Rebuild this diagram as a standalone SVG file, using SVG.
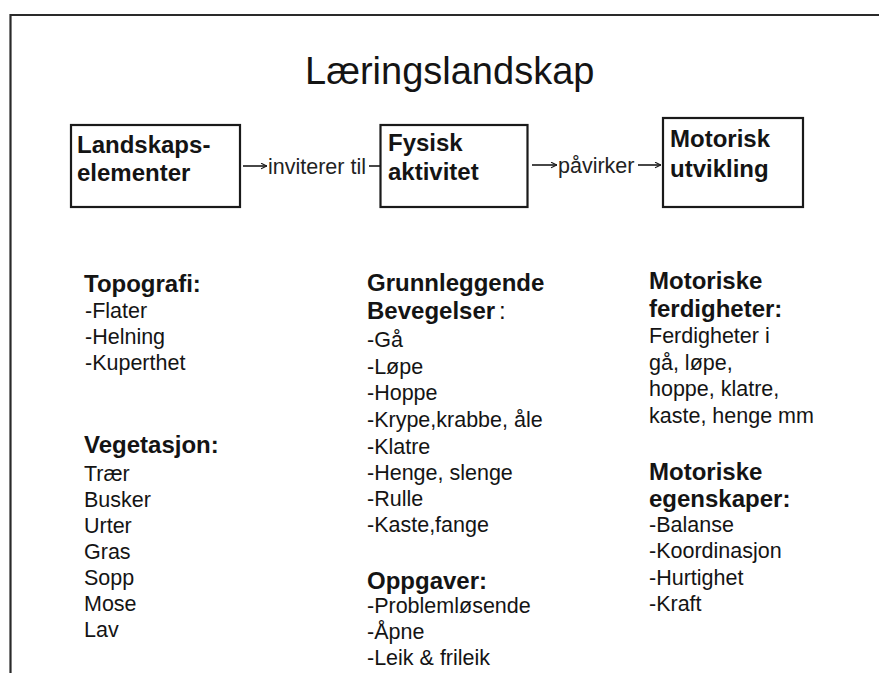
<svg xmlns="http://www.w3.org/2000/svg" width="879" height="673" viewBox="0 0 879 673">
  <defs>
    <marker id="arr" viewBox="0 0 10 10" refX="9.5" refY="5" markerWidth="7" markerHeight="7" markerUnits="userSpaceOnUse" orient="auto">
      <path d="M1,1 L9.5,5 L1,9" fill="none" stroke="#1a1a1a" stroke-width="1.6"/>
    </marker>
    <style>
      text { font-family: "Liberation Sans", Arial, sans-serif; fill: #141414; }
      .title { font-size: 38px; }
      .box { fill: #ffffff; stroke: #1a1a1a; stroke-width: 2.2; }
      .bt { font-size: 24px; font-weight: bold; }
      .h { font-size: 24px; font-weight: bold; }
      .t { font-size: 21.5px; }
      .lbl { font-size: 21.5px; fill: #222; }
      .conn { stroke: #1a1a1a; stroke-width: 1.6; fill: none; }
      .frame { stroke: #2a2a2a; stroke-width: 2.2; fill: none; }
    </style>
  </defs>
  <rect x="0" y="0" width="879" height="673" fill="#ffffff"/>
  <path class="frame" d="M879,15 H10.5 V673"/>

  <text class="title" x="305" y="84">Læringslandskap</text>

  <g id="node-landskapselementer">
    <rect class="box" x="71" y="125" width="169" height="82"/>
    <text class="bt" x="77" y="153">Landskaps-</text>
    <text class="bt" x="77" y="181">elementer</text>
  </g>
  <g id="node-fysisk-aktivitet">
    <rect class="box" x="380.5" y="125" width="147" height="82"/>
    <text class="bt" x="388" y="151">Fysisk</text>
    <text class="bt" x="388" y="180">aktivitet</text>
  </g>
  <g id="node-motorisk-utvikling">
    <rect class="box" x="663" y="118" width="140" height="89"/>
    <text class="bt" x="670" y="147">Motorisk</text>
    <text class="bt" x="670" y="177">utvikling</text>
  </g>

  <g id="connectors">
    <line class="conn" x1="243" y1="166" x2="267" y2="166" marker-end="url(#arr)"/>
    <text class="lbl" x="268" y="174">inviterer til</text>
    <line class="conn" x1="369" y1="166" x2="380" y2="166"/>
    <line class="conn" x1="532" y1="165" x2="557" y2="165" marker-end="url(#arr)"/>
    <text class="lbl" x="558" y="173">påvirker</text>
    <line class="conn" x1="638" y1="165" x2="661" y2="165" marker-end="url(#arr)"/>
  </g>

  <g id="col-landskap">
    <text class="h" x="84" y="292">Topografi:</text>
    <text class="t" x="85" y="318">-Flater</text>
    <text class="t" x="85" y="344">-Helning</text>
    <text class="t" x="85" y="370">-Kuperthet</text>
    <text class="h" x="84" y="453">Vegetasjon:</text>
    <text class="t" x="84" y="481">Trær</text>
    <text class="t" x="84" y="507">Busker</text>
    <text class="t" x="84" y="533">Urter</text>
    <text class="t" x="84" y="559">Gras</text>
    <text class="t" x="84" y="585">Sopp</text>
    <text class="t" x="84" y="611">Mose</text>
    <text class="t" x="84" y="637">Lav</text>
  </g>

  <g id="col-aktivitet">
    <text class="h" x="367" y="291">Grunnleggende</text>
    <text class="h" x="367" y="319">Bevegelser<tspan dx="4" font-weight="normal">:</tspan></text>
    <text class="t" x="367" y="347">-Gå</text>
    <text class="t" x="367" y="374">-Løpe</text>
    <text class="t" x="367" y="400">-Hoppe</text>
    <text class="t" x="367" y="427">-Krype,krabbe, åle</text>
    <text class="t" x="367" y="454">-Klatre</text>
    <text class="t" x="367" y="480">-Henge, slenge</text>
    <text class="t" x="367" y="506">-Rulle</text>
    <text class="t" x="367" y="532">-Kaste,fange</text>
    <text class="h" x="367" y="589">Oppgaver:</text>
    <text class="t" x="367" y="613">-Problemløsende</text>
    <text class="t" x="367" y="639">-Åpne</text>
    <text class="t" x="367" y="665">-Leik &amp; frileik</text>
  </g>

  <g id="col-motorisk">
    <text class="h" x="649" y="289">Motoriske</text>
    <text class="h" x="649" y="317">ferdigheter:</text>
    <text class="t" x="649" y="343">Ferdigheter i</text>
    <text class="t" x="649" y="370">gå, løpe,</text>
    <text class="t" x="649" y="396">hoppe, klatre,</text>
    <text class="t" x="649" y="423">kaste, henge mm</text>
    <text class="h" x="649" y="480">Motoriske</text>
    <text class="h" x="649" y="507">egenskaper:</text>
    <text class="t" x="649" y="532">-Balanse</text>
    <text class="t" x="649" y="558">-Koordinasjon</text>
    <text class="t" x="649" y="585">-Hurtighet</text>
    <text class="t" x="649" y="611">-Kraft</text>
  </g>
</svg>
